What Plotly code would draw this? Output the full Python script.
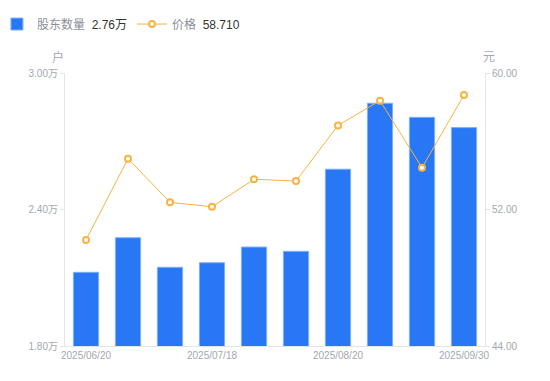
import plotly.graph_objects as go

# Data
x_index = list(range(10))
holders_wan = [2.124, 2.276, 2.146, 2.166, 2.235, 2.216, 2.577, 2.867, 2.805, 2.76]
price = [50.21, 54.98, 52.42, 52.16, 53.77, 53.67, 56.93, 58.38, 54.45, 58.71]
tick_labels = ["2025/06/20", "2025/07/18", "2025/08/20", "2025/09/30"]
tick_pos = [0, 3, 6, 9]
left_ticks = [1.8, 2.4, 3.0]
right_ticks = [44, 52, 60]

BLUE = "#2878f5"
ORANGE = "#f8b342"
GRAY = "#a3a7b0"
AXIS = "#e3e5ea"
FONT = "Liberation Sans, Arial, Noto Sans CJK SC, sans-serif"

fig = go.Figure()
fig.add_trace(go.Bar(
    x=x_index, y=holders_wan,
    name="股东数量  <span style='color:#333'>%.2f万</span>" % holders_wan[-1],
    marker=dict(color=BLUE, line=dict(color="#7fb0fa", width=1)),
    width=0.6,
    yaxis="y",
))
fig.add_trace(go.Scatter(
    x=x_index, y=price,
    name="价格  <span style='color:#333'>%.3f</span>" % price[-1],
    mode="lines+markers",
    line=dict(color=ORANGE, width=1),
    marker=dict(color="white", size=6, line=dict(color=ORANGE, width=2)),
    yaxis="y2",
))

fig.update_layout(
    width=542, height=373,
    margin=dict(l=57, r=65, t=65, b=35, autoexpand=False),
    paper_bgcolor="white", plot_bgcolor="white",
    font=dict(family=FONT, size=12, color="#8a8f99"),
    showlegend=True,
    legend=dict(
        orientation="h", xref="paper", yref="container",
        x=-0.162, y=0.957, xanchor="left", yanchor="middle",
        font=dict(family=FONT, size=12, color="#8a8f99"),
        itemwidth=30, tracegroupgap=0, bgcolor="rgba(0,0,0,0)",
        traceorder="normal",
    ),
    xaxis=dict(
        range=[-0.5, 9.5], tickmode="array", tickvals=tick_pos, ticktext=tick_labels,
        showgrid=False, zeroline=False, showline=True, linecolor=AXIS, linewidth=1,
        ticks="", tickfont=dict(family=FONT, size=10, color=GRAY), automargin=False,
    ),
    yaxis=dict(
        range=[1.8, 3.0], tickmode="array", tickvals=left_ticks,
        ticktext=["%.2f万" % v for v in left_ticks],
        showgrid=False, zeroline=False, showline=True, linecolor=AXIS, linewidth=1,
        ticks="outside", ticklen=4, tickcolor=AXIS,
        tickfont=dict(family=FONT, size=10, color=GRAY), automargin=False,
    ),
    yaxis2=dict(
        range=[44, 60], overlaying="y", side="right", tickmode="array",
        tickvals=right_ticks, ticktext=["%.2f" % v for v in right_ticks],
        showgrid=False, zeroline=False, showline=True, linecolor=AXIS, linewidth=1,
        ticks="outside", ticklen=4, tickcolor=AXIS,
        tickfont=dict(family=FONT, size=10, color=GRAY), automargin=False,
    ),
    annotations=[
        dict(text="户", xref="paper", yref="paper", x=-0.017, y=1.0, yshift=16,
             showarrow=False, font=dict(size=12, color=GRAY), xanchor="center", yanchor="middle"),
        dict(text="元", xref="paper", yref="paper", x=1.01, y=1.0, yshift=16,
             showarrow=False, font=dict(size=12, color=GRAY), xanchor="center", yanchor="middle"),
    ],
)

fig.write_html("out.html")
